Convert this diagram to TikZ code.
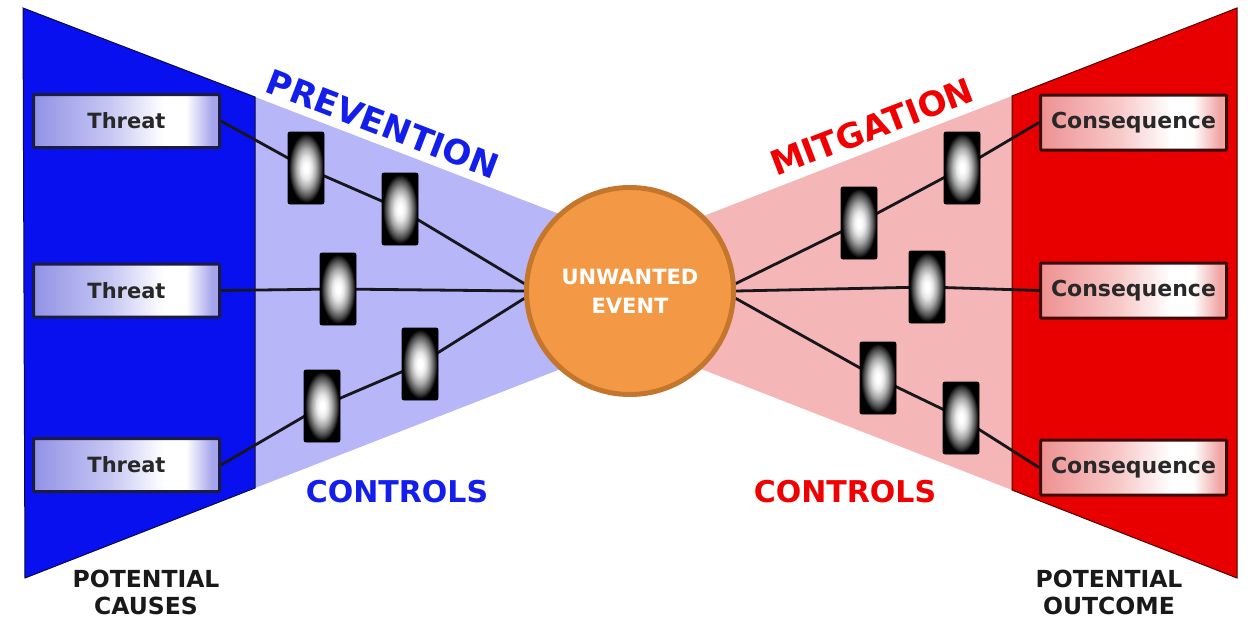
\documentclass[tikz,border=0pt]{standalone}
\usepackage{fontspec}
\setmainfont{DejaVu Sans}
\definecolor{causeblue}{RGB}{8,16,240}
\definecolor{prevlight}{RGB}{182,182,248}
\definecolor{outred}{RGB}{232,0,0}
\definecolor{mitlight}{RGB}{244,182,182}
\definecolor{causeedge}{RGB}{10,10,70}
\definecolor{outedge}{RGB}{80,0,0}
\definecolor{thrlav}{RGB}{146,146,230}
\definecolor{thrmid}{RGB}{200,200,244}
\definecolor{thrend}{RGB}{165,165,236}
\definecolor{thredge}{RGB}{28,28,64}
\definecolor{conpink}{RGB}{238,145,145}
\definecolor{conmid}{RGB}{248,200,200}
\definecolor{conend}{RGB}{240,165,165}
\definecolor{conedge}{RGB}{60,12,12}
\definecolor{eventorange}{RGB}{243,153,70}
\definecolor{eventrim}{RGB}{196,118,44}
\definecolor{labelblue}{RGB}{20,30,235}
\definecolor{labelred}{RGB}{240,0,0}
\definecolor{linegray}{RGB}{22,22,28}
\definecolor{textgray}{RGB}{40,40,40}
\definecolor{ctrllite}{RGB}{230,230,230}
\definecolor{ctrlmid}{RGB}{165,165,165}
\definecolor{ctrldark}{RGB}{75,75,75}
\definecolor{ctrlwhite}{RGB}{255,255,255}

% box fills: tinted at the edges, white towards the right
\pgfdeclarehorizontalshading{threatshade}{100bp}{color(0bp)=(thrlav); color(25bp)=(thrlav); color(46bp)=(thrmid); color(60bp)=(ctrlwhite); color(66bp)=(ctrlwhite); color(73bp)=(thrend); color(100bp)=(thrend)}
\pgfdeclarehorizontalshading{conshade}{100bp}{color(0bp)=(conpink); color(25bp)=(conpink); color(46bp)=(conmid); color(60bp)=(ctrlwhite); color(66bp)=(ctrlwhite); color(73bp)=(conend); color(100bp)=(conend)}
% barrier blocks: bright centre fading to black
\pgfdeclareradialshading{ctrlshade}{\pgfpoint{0bp}{0bp}}{color(0bp)=(ctrlwhite); color(3bp)=(ctrlwhite); color(8bp)=(ctrllite); color(14bp)=(ctrlmid); color(20bp)=(ctrldark); color(24bp)=(black); color(50bp)=(black)}

\pgfdeclarelayer{bg}
\pgfdeclarelayer{lines}
\pgfsetlayers{bg,lines,main}

\begin{document}
\begin{tikzpicture}[x=1pt,y=-1pt,
  conn/.style={line width=2.8pt, draw=linegray},
  ctrlbox/.style={rectangle, rounded corners=2pt, minimum width=36pt, minimum height=72pt,
    inner sep=0pt, shading=ctrlshade, draw=black, line width=0.8pt},
  threatbox/.style={rectangle, rounded corners=1pt, minimum width=186pt, minimum height=53pt,
    inner sep=0pt, shading=threatshade, draw=thredge, line width=3pt, text=textgray,
    font=\fontsize{21}{25}\selectfont\bfseries},
  conbox/.style={rectangle, rounded corners=1pt, minimum width=186pt, minimum height=55pt,
    inner sep=0pt, shading=conshade, draw=conedge, line width=3pt, text=textgray,
    font=\fontsize{22}{26}\selectfont\bfseries},
  biglabel/.style={inner sep=0pt, font=\fontsize{34}{40}\selectfont\bfseries},
  ctrllabel/.style={inner sep=0pt, font=\fontsize{30}{36}\selectfont\bfseries},
  footlabel/.style={inner sep=0pt, align=center, text=black!90,
    font=\fontsize{23.5}{27}\selectfont\bfseries}]

\useasboundingbox (0,0) rectangle (1248,618);

% white page, then the causes and outcome wedges
\begin{pgfonlayer}{bg}
  \fill[white] (0,0) rectangle (1248,618);
  \fill[prevlight] (255,97) -- (600,229.6) -- (600,353.7) -- (255,488) -- cycle;
  \fill[mitlight] (1012,96) -- (660,233) -- (660,353) -- (1012,490) -- cycle;
  \filldraw[fill=causeblue, draw=causeedge, line width=1pt]
    (23,8) -- (255,97) -- (255,488) -- (25,578) -- cycle;
  \filldraw[fill=outred, draw=outedge, line width=1pt]
    (1237,8) -- (1012,96) -- (1012,490) -- (1237,578) -- cycle;
\end{pgfonlayer}

% threats and consequences
\node[threatbox] (t1) at (126.5,121) {Threat};
\node[threatbox] (t2) at (126.5,290.5) {Threat};
\node[threatbox] (t3) at (126.5,465) {Threat};
\node[conbox] (s1) at (1133.5,122.5) {Consequence};
\node[conbox] (s2) at (1133.5,290.5) {Consequence};
\node[conbox] (s3) at (1133.5,467.5) {Consequence};

% prevention barriers
\node[ctrlbox] (c1) at (306,168) {};
\node[ctrlbox] (c2) at (400,209) {};
\node[ctrlbox] (c3) at (338,289) {};
\node[ctrlbox] (c4) at (420,364) {};
\node[ctrlbox] (c5) at (322,406) {};

% mitigation barriers
\node[ctrlbox] (r1) at (859,223) {};
\node[ctrlbox] (r2) at (962,168) {};
\node[ctrlbox] (r3) at (927,287) {};
\node[ctrlbox] (r4) at (878,378) {};
\node[ctrlbox] (r5) at (961,418) {};

% central event
\node[circle, minimum size=207pt, inner sep=0pt, fill=eventorange, draw=eventrim,
  line width=5pt, text=white, align=center,
  font=\fontsize{21}{29}\selectfont\bfseries] (ev) at (630,291) {UNWANTED\\EVENT};

% threat and consequence paths
\begin{pgfonlayer}{lines}
  \draw[conn] (t1.east) -- (c1.center) -- (c2.center) -- (ev.176);
  \draw[conn] (t2.east) -- (c3.center) -- (ev.west);
  \draw[conn] (t3.east) -- (c5.center) -- (c4.center) -- (ev.184);
  \draw[conn] (ev.4) -- (r1.center) -- (r2.center) -- (s1.west);
  \draw[conn] (ev.east) -- (r3.center) -- (s2.west);
  \draw[conn] (ev.-4) -- (r4.center) -- (r5.center) -- (s3.west);
\end{pgfonlayer}

% labels
\node[biglabel, text=labelblue, rotate=-21] (prev) at (383,124) {PREVENTION};
\node[biglabel, text=labelred, rotate=21] (mit) at (872,127) {MITGATION};
\node[ctrllabel, text=labelblue] (pcl) at (397,492) {CONTROLS};
\node[ctrllabel, text=labelred] (mcl) at (845,492) {CONTROLS};
\node[footlabel] (causes) at (146,592) {POTENTIAL\\CAUSES};
\node[footlabel] (outcome) at (1109,592) {POTENTIAL\\OUTCOME};

\end{tikzpicture}
\end{document}
